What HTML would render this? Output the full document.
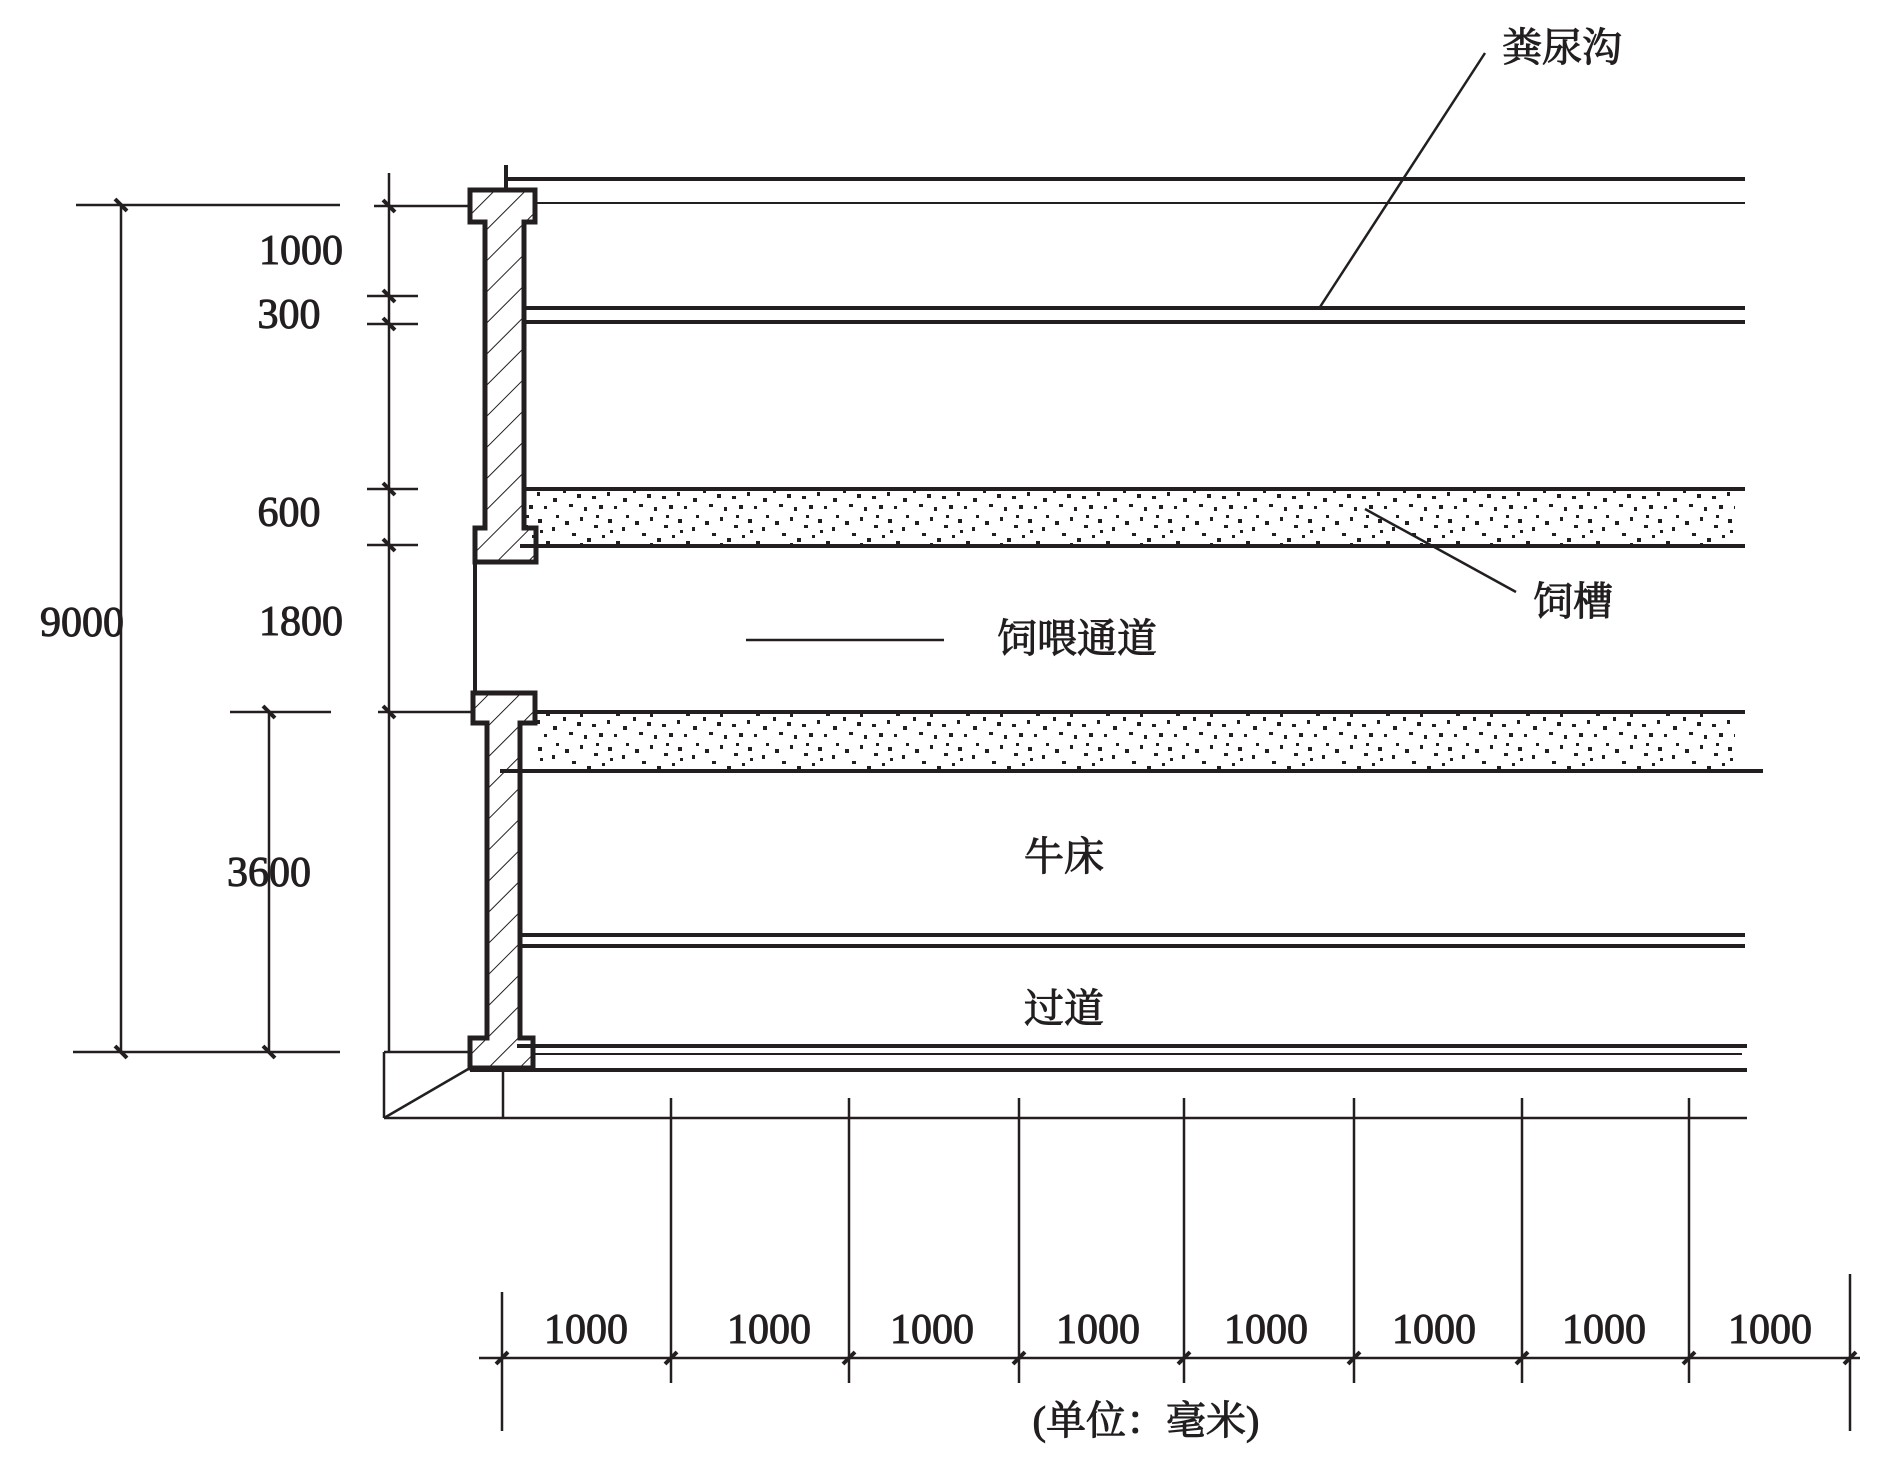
<!DOCTYPE html>
<html><head><meta charset="utf-8"><style>
html,body{margin:0;padding:0;background:#fff}
svg{display:block}
.n{font-family:"Liberation Serif","Times New Roman",serif;font-size:42px;fill:#231f20}
.c{font-family:"Liberation Serif","Noto Serif CJK SC",serif;font-size:40px;fill:#231f20}
</style></head><body>
<svg width="1901" height="1458" viewBox="0 0 1901 1458" xmlns="http://www.w3.org/2000/svg">
<defs>
<pattern id="h" width="22" height="22" patternUnits="userSpaceOnUse" patternTransform="rotate(45)">
<line x1="0" y1="0" x2="0" y2="22" stroke="#231f20" stroke-width="2"/>
</pattern>
<pattern id="s" width="70" height="57" patternUnits="userSpaceOnUse">
<g fill="#231f20">
<rect x="5" y="8" width="4" height="4"/><rect x="20" y="4" width="3" height="4"/><rect x="34" y="12" width="4" height="3"/>
<rect x="48" y="6" width="4" height="4"/><rect x="62" y="14" width="3" height="4"/><rect x="12" y="20" width="4" height="3"/>
<rect x="27" y="25" width="4" height="4"/><rect x="42" y="22" width="3" height="3"/><rect x="56" y="28" width="4" height="4"/>
<rect x="3" y="33" width="3" height="4"/><rect x="17" y="38" width="4" height="4"/><rect x="32" y="40" width="4" height="3"/>
<rect x="47" y="36" width="3" height="4"/><rect x="63" y="42" width="4" height="4"/><rect x="9" y="48" width="4" height="3"/>
<rect x="24" y="51" width="3" height="4"/><rect x="39" y="49" width="4" height="4"/><rect x="54" y="50" width="3" height="3"/>
<rect x="66" y="2" width="3" height="3"/><rect x="36" y="2" width="3" height="3"/><rect x="50" y="17" width="3" height="3"/><rect x="20" y="30" width="3" height="3"/>
</g></pattern>
</defs>
<g stroke="#231f20" fill="none">
<rect x="524" y="489" width="1211" height="57" fill="url(#s)" stroke="none"/>
<rect x="535" y="712" width="1200" height="59" fill="url(#s)" stroke="none"/>
<g stroke-width="4">
<line x1="506" y1="179" x2="1745" y2="179"/>
<line x1="524" y1="308" x2="1745" y2="308"/>
<line x1="524" y1="322" x2="1745" y2="322"/>
<line x1="524" y1="489" x2="1745" y2="489"/>
<line x1="520" y1="546" x2="1745" y2="546"/>
<line x1="535" y1="712" x2="1745" y2="712"/>
<line x1="500" y1="771" x2="1763" y2="771"/>
<line x1="520" y1="935" x2="1745" y2="935"/>
<line x1="520" y1="946" x2="1745" y2="946"/>
<line x1="517" y1="1046" x2="1747" y2="1046"/>
<line x1="470" y1="1070" x2="1747" y2="1070"/>
<line x1="506" y1="165" x2="506" y2="190"/>
</g>
<line x1="535" y1="203" x2="1745" y2="203" stroke-width="2"/>
<line x1="533" y1="1054" x2="1742" y2="1054" stroke-width="2"/>
<path d="M470,190 H535 V222 H524 V528 H536 V562 H475 V528 H485 V222 H470 Z" fill="url(#h)" stroke-width="5"/>
<path d="M473,693 H535 V723 H520 V1038 H533 V1068 H470 V1038 H487 V723 H473 Z" fill="url(#h)" stroke-width="5"/>
<line x1="475" y1="562" x2="475" y2="693" stroke-width="4"/>
<g stroke-width="2.5">
<line x1="384" y1="1052" x2="470" y2="1052"/>
<line x1="384" y1="1052" x2="384" y2="1118"/>
<line x1="384" y1="1118" x2="1747" y2="1118"/>
<line x1="503" y1="1068" x2="503" y2="1118"/>
<line x1="384" y1="1118" x2="470" y2="1068"/>
<line x1="389" y1="173" x2="389" y2="1052"/>
<line x1="374" y1="206" x2="470" y2="206"/>
<line x1="367" y1="296" x2="418" y2="296"/>
<line x1="367" y1="324" x2="418" y2="324"/>
<line x1="367" y1="489" x2="418" y2="489"/>
<line x1="367" y1="545" x2="418" y2="545"/>
<line x1="378" y1="712" x2="473" y2="712"/>
<line x1="121" y1="205" x2="121" y2="1052"/>
<line x1="76" y1="205" x2="340" y2="205"/>
<line x1="73" y1="1052" x2="340" y2="1052"/>
<line x1="269" y1="712" x2="269" y2="1052"/>
<line x1="230" y1="712" x2="331" y2="712"/>
<line x1="479" y1="1358" x2="1860" y2="1358"/>
<line x1="502" y1="1292" x2="502" y2="1431"/>
<line x1="1850" y1="1274" x2="1850" y2="1431"/>
<line x1="671" y1="1098" x2="671" y2="1383"/>
<line x1="849" y1="1098" x2="849" y2="1383"/>
<line x1="1019" y1="1098" x2="1019" y2="1383"/>
<line x1="1184" y1="1098" x2="1184" y2="1383"/>
<line x1="1354" y1="1098" x2="1354" y2="1383"/>
<line x1="1522" y1="1098" x2="1522" y2="1383"/>
<line x1="1689" y1="1098" x2="1689" y2="1383"/>
<line x1="1485" y1="53" x2="1320" y2="307"/>
<line x1="1365" y1="509" x2="1516" y2="592"/>
<line x1="746" y1="640" x2="944" y2="640"/>
</g>
<g stroke="#231f20" stroke-width="4">
<line x1="383" y1="200" x2="395" y2="212"/>
<line x1="383" y1="290" x2="395" y2="302"/>
<line x1="383" y1="318" x2="395" y2="330"/>
<line x1="383" y1="483" x2="395" y2="495"/>
<line x1="383" y1="539" x2="395" y2="551"/>
<line x1="383" y1="706" x2="395" y2="718"/>
<line x1="115" y1="199" x2="127" y2="211"/>
<line x1="115" y1="1046" x2="127" y2="1058"/>
<line x1="263" y1="706" x2="275" y2="718"/>
<line x1="263" y1="1046" x2="275" y2="1058"/>
<line x1="496" y1="1364" x2="508" y2="1352"/>
<line x1="665" y1="1364" x2="677" y2="1352"/>
<line x1="843" y1="1364" x2="855" y2="1352"/>
<line x1="1013" y1="1364" x2="1025" y2="1352"/>
<line x1="1178" y1="1364" x2="1190" y2="1352"/>
<line x1="1348" y1="1364" x2="1360" y2="1352"/>
<line x1="1516" y1="1364" x2="1528" y2="1352"/>
<line x1="1683" y1="1364" x2="1695" y2="1352"/>
<line x1="1844" y1="1364" x2="1856" y2="1352"/>
</g>
<g class="n" text-anchor="middle">
<text x="82" y="636">9000</text>
<text x="301" y="264">1000</text>
<text x="289" y="328">300</text>
<text x="289" y="526">600</text>
<text x="301" y="635">1800</text>
<text x="269" y="886">3600</text>
<text x="586" y="1343">1000</text>
<text x="769" y="1343">1000</text>
<text x="932" y="1343">1000</text>
<text x="1098" y="1343">1000</text>
<text x="1266" y="1343">1000</text>
<text x="1434" y="1343">1000</text>
<text x="1604" y="1343">1000</text>
<text x="1770" y="1343">1000</text>
</g>
<g class="c" text-anchor="middle">
<text x="1562" y="61">粪尿沟</text>
<text x="1573" y="615">饲槽</text>
<text x="1077" y="652">饲喂通道</text>
<text x="1064" y="870">牛床</text>
<text x="1064" y="1022">过道</text>
<text x="1146" y="1434">(单位：毫米)</text>
</g>
</svg>
</body></html>
